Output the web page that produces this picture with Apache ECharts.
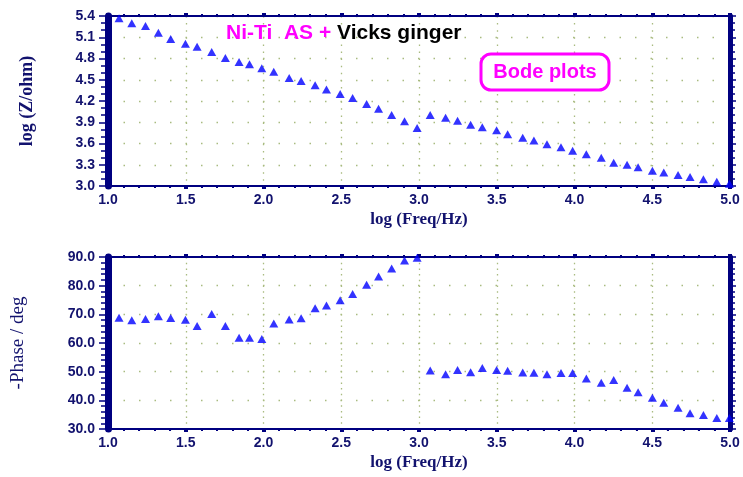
<!DOCTYPE html>
<html>
<head>
<meta charset="utf-8">
<script src="https://cdn.jsdelivr.net/npm/echarts@6/dist/echarts.min.js"></script>
<style>html,body{margin:0;padding:0;background:#fff;}#c{width:743px;height:477px;}</style>
</head>
<body>
<div id="c"></div>
<script>
// log frequency (shared by both plots)
var logFreq = [1.071,1.153,1.241,1.324,1.403,1.498,1.573,1.667,1.755,1.843,1.910,1.989,
  2.066,2.165,2.242,2.332,2.405,2.493,2.573,2.663,2.740,2.824,2.907,2.988,
  3.072,3.171,3.248,3.332,3.407,3.499,3.570,3.667,3.739,3.823,3.913,3.988,
  4.076,4.172,4.252,4.338,4.409,4.501,4.574,4.666,4.743,4.829,4.915,4.996];
// log |Z| (ohm)
var logZ = [5.368,5.297,5.259,5.164,5.075,5.009,4.966,4.892,4.807,4.750,4.718,4.661,
  4.613,4.524,4.482,4.421,4.364,4.298,4.242,4.157,4.091,4.002,3.913,3.818,
  4.002,3.964,3.921,3.865,3.828,3.786,3.729,3.681,3.644,3.588,3.546,3.498,
  3.447,3.399,3.328,3.300,3.263,3.215,3.192,3.154,3.126,3.094,3.060,3.031];
// -Phase (deg)
var phase = [68.8,67.9,68.4,69.3,68.7,68.1,65.9,70.1,65.9,61.8,61.8,61.4,
  66.8,68.2,68.6,72.1,73.1,74.9,77.1,80.3,83.2,86.0,88.8,89.7,
  50.4,49.1,50.6,49.8,51.3,50.6,50.3,49.7,49.6,49.1,49.5,49.5,
  47.6,46.1,47.1,44.4,42.8,40.9,39.2,37.4,35.5,34.9,33.8,33.8];

var xTicks = {min: 1.0, max: 5.0, interval: 0.5};
var zTicks = {min: 3.0, max: 5.4, interval: 0.3};
var pTicks = {min: 30, max: 90, interval: 10};

var NAVY = '#000080';
var TXT = '#12126e';
var DOT = '#a9bb80';

function pairs(xs, ys){ return xs.map(function(x,i){ return [x, ys[i]]; }); }

function xAxisMain(gi, yDash){
  return {
    type:'value', gridIndex:gi, min:xTicks.min, max:xTicks.max, interval:xTicks.interval,
    position:'bottom',
    axisLine:{show:true, onZero:false, lineStyle:{color:NAVY, width:2}},
    axisTick:{show:true, inside:false, length:3, lineStyle:{color:NAVY, width:4}},
    minorTick:{show:true, splitNumber:5, length:2, lineStyle:{color:NAVY, width:2}},
    axisLabel:{color:TXT, fontFamily:'Liberation Sans', fontWeight:'bold', fontSize:14, margin:7,
      formatter:function(v){ return v.toFixed(1); }},
    splitLine:{show:true, lineStyle:{color:DOT, width:1.3, type:yDash}},
    name:'log (Freq/Hz)', nameLocation:'middle', nameGap:25,
    nameTextStyle:{color:TXT, fontFamily:'Liberation Serif', fontWeight:'bold', fontSize:17}
  };
}
function xAxisTop(gi){
  return {
    type:'value', gridIndex:gi, min:xTicks.min, max:xTicks.max, interval:xTicks.interval,
    position:'top',
    axisLine:{show:true, onZero:false, lineStyle:{color:NAVY, width:2}},
    axisTick:{show:true, inside:false, length:3, lineStyle:{color:NAVY, width:4}},
    minorTick:{show:true, splitNumber:5, length:2, lineStyle:{color:NAVY, width:2}},
    axisLabel:{show:false}, splitLine:{show:false}
  };
}
function yAxisLeft(gi, t, minorSplit, name, nameGap, nameStyle){
  return {
    type:'value', gridIndex:gi, min:t.min, max:t.max, interval:t.interval, position:'left',
    axisLine:{show:true, onZero:false, lineStyle:{color:NAVY, width:7}},
    axisTick:{show:true, inside:false, length:9, lineStyle:{color:NAVY, width:1.5}},
    minorTick:{show:true, splitNumber:minorSplit, length:7, lineStyle:{color:NAVY, width:1.5}},
    axisLabel:{color:TXT, fontFamily:'Liberation Sans', fontWeight:'bold', fontSize:14, margin:13,
      formatter:function(v){ return v.toFixed(1); }},
    splitLine:{show:true, lineStyle:{color:DOT, width:1.3, type:[1.5,14]}},
    name:name, nameLocation:'middle', nameGap:nameGap, nameRotate:90,
    nameTextStyle:nameStyle
  };
}
function yAxisRight(gi, t, minorSplit){
  return {
    type:'value', gridIndex:gi, min:t.min, max:t.max, interval:t.interval, position:'right',
    axisLine:{show:true, onZero:false, lineStyle:{color:NAVY, width:5}},
    axisTick:{show:true, inside:false, length:6, lineStyle:{color:NAVY, width:1.5}},
    minorTick:{show:true, splitNumber:minorSplit, length:5, lineStyle:{color:NAVY, width:1.5}},
    axisLabel:{show:false}, splitLine:{show:false}
  };
}

var chart = echarts.init(document.getElementById('c'), null, {renderer:'canvas'});
chart.setOption({
  animation:false,
  backgroundColor:'#ffffff',
  grid:[
    {left:108, right:13, top:16, height:170},
    {left:108, right:13, top:257, height:172}
  ],
  xAxis:[
    xAxisMain(0, [1.5,5.6]), xAxisTop(0),
    xAxisMain(1, [1.5,4.2]), xAxisTop(1)
  ],
  yAxis:[
    yAxisLeft(0, zTicks, 3, 'log (Z/ohm)', 72,
      {color:TXT, fontFamily:'Liberation Serif', fontWeight:'bold', fontSize:18}),
    yAxisRight(0, zTicks, 3),
    yAxisLeft(1, pTicks, 5, '-Phase / deg', 80,
      {color:TXT, fontFamily:'Liberation Serif', fontWeight:'normal', fontSize:19}),
    yAxisRight(1, pTicks, 5)
  ],
  series:[
    {type:'scatter', xAxisIndex:0, yAxisIndex:0, data:pairs(logFreq, logZ),
      symbol:'triangle', symbolSize:[9,8], itemStyle:{color:'#0000ff'}, z:5},
    {type:'scatter', xAxisIndex:2, yAxisIndex:2, data:pairs(logFreq, phase),
      symbol:'triangle', symbolSize:[9,8], itemStyle:{color:'#0000ff'}, z:5}
  ],
  graphic:[
    {type:'text', left:226, top:23, z:10,
      style:{text:'Ni-Ti  AS +', fill:'#ff00ff', font:'bold 21px "Liberation Sans"'}},
    {type:'text', left:337, top:23, z:10,
      style:{text:'Vicks ginger', fill:'#000000', font:'bold 21px "Liberation Sans"'}},
    {type:'rect', z:10, shape:{x:481, y:54, width:128, height:36, r:10},
      style:{fill:'#ffffff', stroke:'#ff00ff', lineWidth:3}},
    {type:'text', x:545, y:72, z:11,
      style:{text:'Bode plots', fill:'#ff00ff', font:'bold 20px "Liberation Sans"',
        textAlign:'center', textVerticalAlign:'middle'}}
  ]
});
</script>
</body>
</html>
